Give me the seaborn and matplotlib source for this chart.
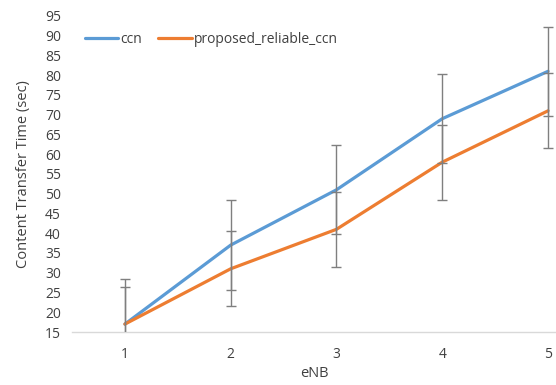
import pandas as pd
import numpy as np
import matplotlib
matplotlib.use('Agg')
import matplotlib.pyplot as plt
import seaborn as sns

# data
enb = [1, 2, 3, 4, 5]
ccn = [17, 37, 51, 69, 81]
proposed = [17, 31, 41, 58, 71]
ccn_err = [11.3, 11.3, 11.3, 11.3, 11.3]
proposed_err = [9.5, 9.5, 9.5, 9.5, 9.5]
series_names = ['ccn', 'proposed_reliable_ccn']
y_ticks = list(range(15, 100, 5))

df = pd.DataFrame({
    'eNB': enb + enb,
    'time': ccn + proposed,
    'series': [series_names[0]] * len(enb) + [series_names[1]] * len(enb),
})

sns.set_style('white')
plt.rcParams['font.family'] = ['Open Sans', 'DejaVu Sans']

palette = {'ccn': '#5B9BD5', 'proposed_reliable_ccn': '#ED7D31'}

fig = plt.figure(figsize=(5.56, 3.85), dpi=100)
ax = fig.add_axes([72 / 556, 1 - 332 / 385, (556 - 72) / 556, (332 - 16) / 385])

sns.lineplot(data=df, x='eNB', y='time', hue='series', palette=palette,
             linewidth=2.3, ax=ax, zorder=2)

# error bars
for vals, errs in [(ccn, ccn_err), (proposed, proposed_err)]:
    ax.errorbar(enb, vals, yerr=errs, fmt='none', ecolor='#7f7f7f',
                elinewidth=1.0, capsize=3.5, capthick=1.0, zorder=3)

ax.set_xlim(0.5, 5.075)
ax.set_ylim(15, 95)
ax.set_xticks(enb)
ax.set_yticks(y_ticks)
ax.tick_params(axis='both', length=0, labelsize=10, colors='#404040', pad=8)
ax.tick_params(axis='x', pad=11)

for s in ['top', 'right', 'left']:
    ax.spines[s].set_visible(False)
ax.spines['bottom'].set_color('#d9d9d9')
ax.spines['bottom'].set_linewidth(1.0)
ax.spines['bottom'].set_zorder(1)

ax.set_xlabel('eNB', fontsize=10.5, color='#404040', labelpad=3)
ax.set_ylabel('Content Transfer Time (sec)', fontsize=10.5, color='#404040', labelpad=10)

leg = ax.legend(loc='upper left', bbox_to_anchor=(0.0, 0.99), ncol=2, frameon=False,
                fontsize=10, handlelength=2.4, handletextpad=0.15, columnspacing=1.2)
for t in leg.get_texts():
    t.set_color('#404040')

fig.savefig('out.png', dpi=100)
